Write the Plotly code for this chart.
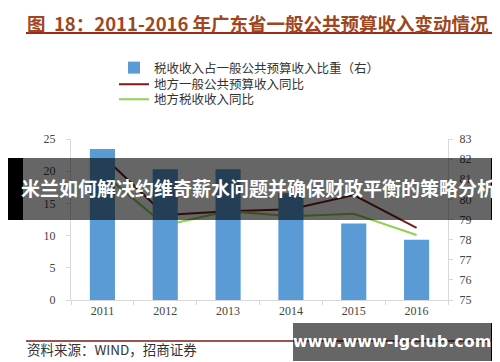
import plotly.graph_objects as go

years = ["2011", "2012", "2013", "2014", "2015", "2016"]
tax_share = [82.5, 81.5, 81.5, 80.3, 78.8, 78.0]        # right axis, bars
budget_yoy = [22.4, 13.2, 13.8, 14.1, 16.3, 11.2]       # left axis, red line
tax_yoy = [19.7, 11.6, 13.8, 13.0, 13.4, 10.1]          # left axis, green line

names = ["税收收入占一般公共预算收入比重（右）", "地方一般公共预算收入同比", "地方税收收入同比"]
title_text = "图&nbsp;&nbsp;18：2011-2016 年广东省一般公共预算收入变动情况"
source_text = "资料来源：WIND，招商证券"
banner_text = "米兰如何解决约维奇薪水问题并确保财政平衡的策略分析"
watermark_text = "www.www-lgclub.com"

W, H = 500, 362
L, R, T, B = 63, 60, 131, 70

def px_x(x):
    return (x - L) / (W - L - R)

def px_y(y):
    return (H - B - y) / (H - T - B)

fig = go.Figure()
fig.add_trace(go.Bar(x=years, y=tax_share, name=names[0], yaxis="y2", legend="legend",
                     marker=dict(color="#5b9bd5", line=dict(width=0)), width=0.4))
fig.add_trace(go.Scatter(x=years, y=budget_yoy, name=names[1], mode="lines", legend="legend2",
                         line=dict(color="#7b1a1a", width=2)))
fig.add_trace(go.Scatter(x=years, y=tax_yoy, name=names[2], mode="lines", legend="legend3",
                         line=dict(color="#92d050", width=2)))

tick_font = dict(family="Liberation Serif, DejaVu Serif, serif", size=12, color="#444")
leg_font = dict(family="Noto Sans CJK SC", size=12.5, color="#333")

def leg(ypx):
    return dict(x=px_x(106), y=px_y(ypx), xanchor="left", yanchor="middle",
                font=leg_font, bgcolor="rgba(0,0,0,0)", itemwidth=30,
                borderwidth=0)

fig.update_layout(
    width=W, height=H,
    margin=dict(l=L, r=R, t=T, b=B),
    paper_bgcolor="white", plot_bgcolor="white",
    showlegend=True,
    legend=leg(60), legend2=leg(76.5), legend3=leg(91.5),
    xaxis=dict(type="category", showline=True, linecolor="#d9d9d9", linewidth=1,
               ticks="outside", tickson="boundaries", ticklen=4, tickcolor="#d9d9d9",
               tickfont=tick_font, showgrid=False, zeroline=False),
    yaxis=dict(range=[0, 25], dtick=5, showline=True, linecolor="#d9d9d9",
               ticks="outside", ticklen=4, tickcolor="#d9d9d9", tickfont=tick_font,
               showgrid=False, zeroline=False, ticklabelstandoff=8),
    yaxis2=dict(range=[75, 83], dtick=1, overlaying="y", side="right", showline=True,
                linecolor="#d9d9d9", ticks="outside", ticklen=4, tickcolor="#d9d9d9",
                tickfont=tick_font, showgrid=False, zeroline=False, ticklabelstandoff=4),
)

shapes = [
    dict(type="line", xref="paper", yref="paper", x0=px_x(18), x1=px_x(484),
         y0=px_y(25), y1=px_y(25), line=dict(color="#9b2a1a", width=2), layer="above"),
    dict(type="line", xref="paper", yref="paper", x0=px_x(18), x1=px_x(484),
         y0=px_y(333), y1=px_y(333), line=dict(color="#7b1a1a", width=1.5), layer="above"),
    dict(type="rect", xref="paper", yref="paper", x0=px_x(0), x1=px_x(15),
         y0=px_y(212), y1=px_y(150), fillcolor="black", line=dict(width=0), layer="above"),
    dict(type="rect", xref="paper", yref="paper", x0=px_x(483), x1=px_x(500),
         y0=px_y(212), y1=px_y(150), fillcolor="black", line=dict(width=0), layer="above"),
    dict(type="rect", xref="paper", yref="paper", x0=px_x(15), x1=px_x(483),
         y0=px_y(212), y1=px_y(150), fillcolor="rgba(0,0,0,0.6)", line=dict(width=0), layer="above"),
    dict(type="rect", xref="paper", yref="paper", x0=px_x(285), x1=px_x(483),
         y0=px_y(353), y1=px_y(315), fillcolor="rgba(0,0,0,0.6)", line=dict(width=0), layer="above"),
    dict(type="rect", xref="paper", yref="paper", x0=px_x(483), x1=px_x(490),
         y0=px_y(353), y1=px_y(315), fillcolor="black", line=dict(width=0), layer="above"),
]

annotations = [
    dict(text="<b>" + title_text + "</b>", xref="paper", yref="paper",
         x=px_x(17), y=px_y(0), xanchor="left", yanchor="top", showarrow=False,
         font=dict(family="Noto Sans CJK SC", size=18.5, color="#a0461e")),
    dict(text=source_text, xref="paper", yref="paper",
         x=px_x(17), y=px_y(341), xanchor="left", yanchor="middle", showarrow=False,
         font=dict(family="Noto Sans CJK SC", size=13.5, color="#333")),
    dict(text="<b>" + banner_text + "</b>", xref="paper", yref="paper",
         x=px_x(250), y=px_y(179), xanchor="center", yanchor="middle", showarrow=False,
         font=dict(family="Noto Sans CJK SC", size=19, color="white")),
    dict(text="<b>" + watermark_text + "</b>", xref="paper", yref="paper",
         x=px_x(384), y=px_y(333), xanchor="center", yanchor="middle", showarrow=False,
         font=dict(family="DejaVu Sans", size=16, color="white")),
]

fig.update_layout(shapes=shapes, annotations=annotations)
fig.write_html("out.html")
